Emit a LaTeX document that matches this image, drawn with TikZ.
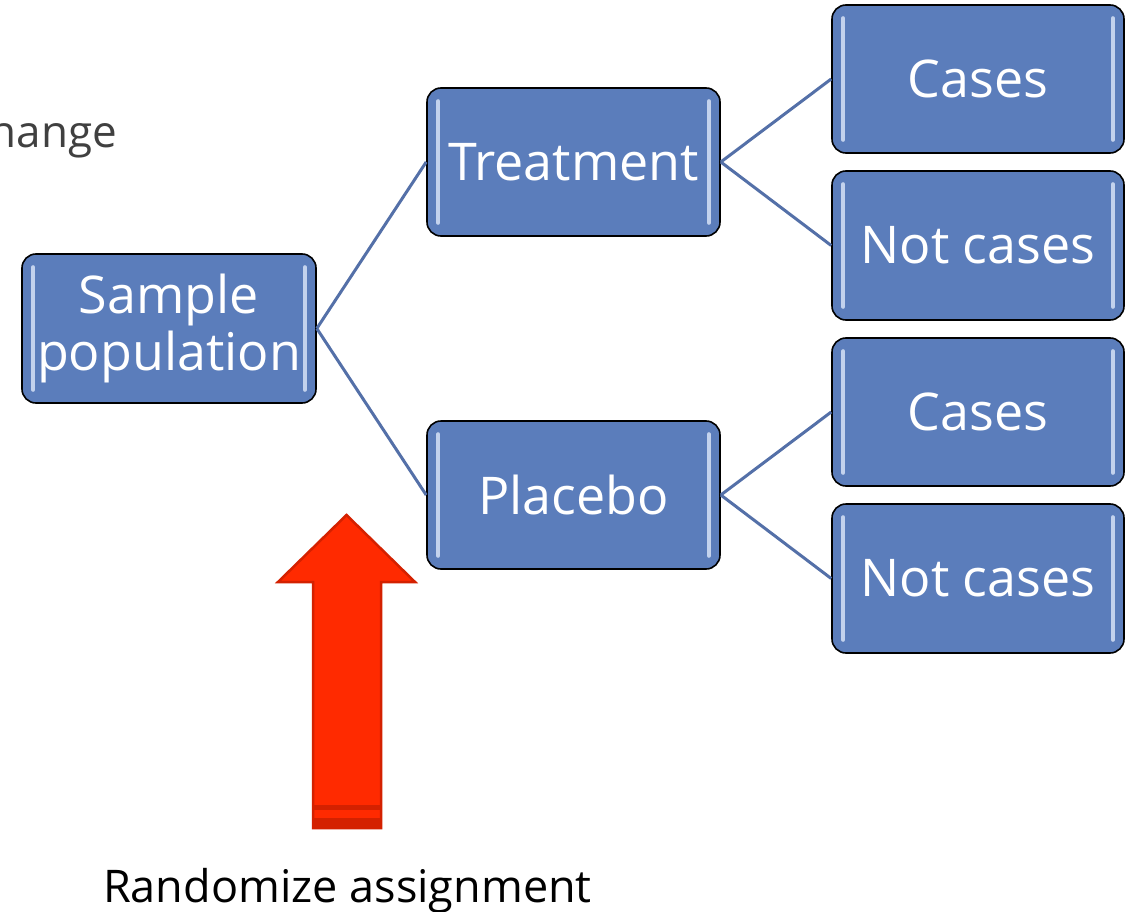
\documentclass[tikz,border=0pt]{standalone}
\usepackage{fontspec}
\setmainfont{Open Sans}
\definecolor{boxblue}{HTML}{5B7DBB}
\definecolor{linkblue}{HTML}{5470A8}
\definecolor{hilite}{HTML}{D6E2F6}
\definecolor{arrowred}{HTML}{FF2A00}
\definecolor{arrowdark}{HTML}{D42100}
\definecolor{graytext}{HTML}{404040}
\tikzset{
  stepbox/.style={draw=black, line width=1.6pt, fill=boxblue, rounded corners=14pt,
    minimum width=292pt, minimum height=148pt, inner sep=0pt, text=white,
    font=\fontsize{52}{57}\selectfont, align=center},
  link/.style={draw=linkblue, line width=3pt},
  hl/.style={draw=hilite, line width=4pt, line cap=round, opacity=0.85}
}
\begin{document}
\begin{tikzpicture}[x=1pt,y=-1pt]
\useasboundingbox (0,0) rectangle (1137,912);
\fill[white] (0,0) rectangle (1137,912);
% partial heading text
\node[anchor=base east, text=graytext, font=\fontsize{44}{48}\selectfont, inner sep=0pt] (head) at (117,148) {change};
% nodes
\node[stepbox, minimum width=294pt, minimum height=149pt] (sp) at (169,328.5) {Sample\\population};
\node[stepbox, minimum width=293pt] (tr) at (573.5,162) {Treatment};
\node[stepbox, minimum width=293pt] (pl) at (573.5,495) {Placebo};
\node[stepbox] (c1) at (978,79) {Cases};
\node[stepbox, minimum height=149pt] (n1) at (978,245.5) {Not cases};
\node[stepbox] (c2) at (978,412) {Cases};
\node[stepbox, minimum height=149pt] (n2) at (978,578.5) {Not cases};
% highlights
\foreach \n in {sp,tr,pl,c1,n1,c2,n2}{
  \draw[hl] ([xshift=12pt,yshift=-14pt]\n.north west) -- ([xshift=12pt,yshift=14pt]\n.south west);
  \draw[hl] ([xshift=-12pt,yshift=-14pt]\n.north east) -- ([xshift=-12pt,yshift=14pt]\n.south east);
}
% connectors
\draw[link] (sp.east) -- (tr.west);
\draw[link] (sp.east) -- (pl.west);
\draw[link] (tr.east) -- (c1.west);
\draw[link] (tr.east) -- (n1.west);
\draw[link] (pl.east) -- (c2.west);
\draw[link] (pl.east) -- (n2.west);
% red block arrow
\coordinate (tip) at (346.5,515);
\filldraw[fill=arrowred, draw=arrowdark, line width=2.5pt, line join=miter]
  (tip) -- (415,582) -- (381,582) -- (381,828) -- (313,828) -- (313,582) -- (278,582) -- cycle;
\fill[arrowdark] (313,805) rectangle (381,810);
\fill[arrowdark] (313,818) rectangle (381,828);
% caption
\node[anchor=base, font=\fontsize{45}{50}\selectfont, inner sep=0pt] (cap) at (347.5,902) {Randomize assignment};
\end{tikzpicture}
\end{document}
